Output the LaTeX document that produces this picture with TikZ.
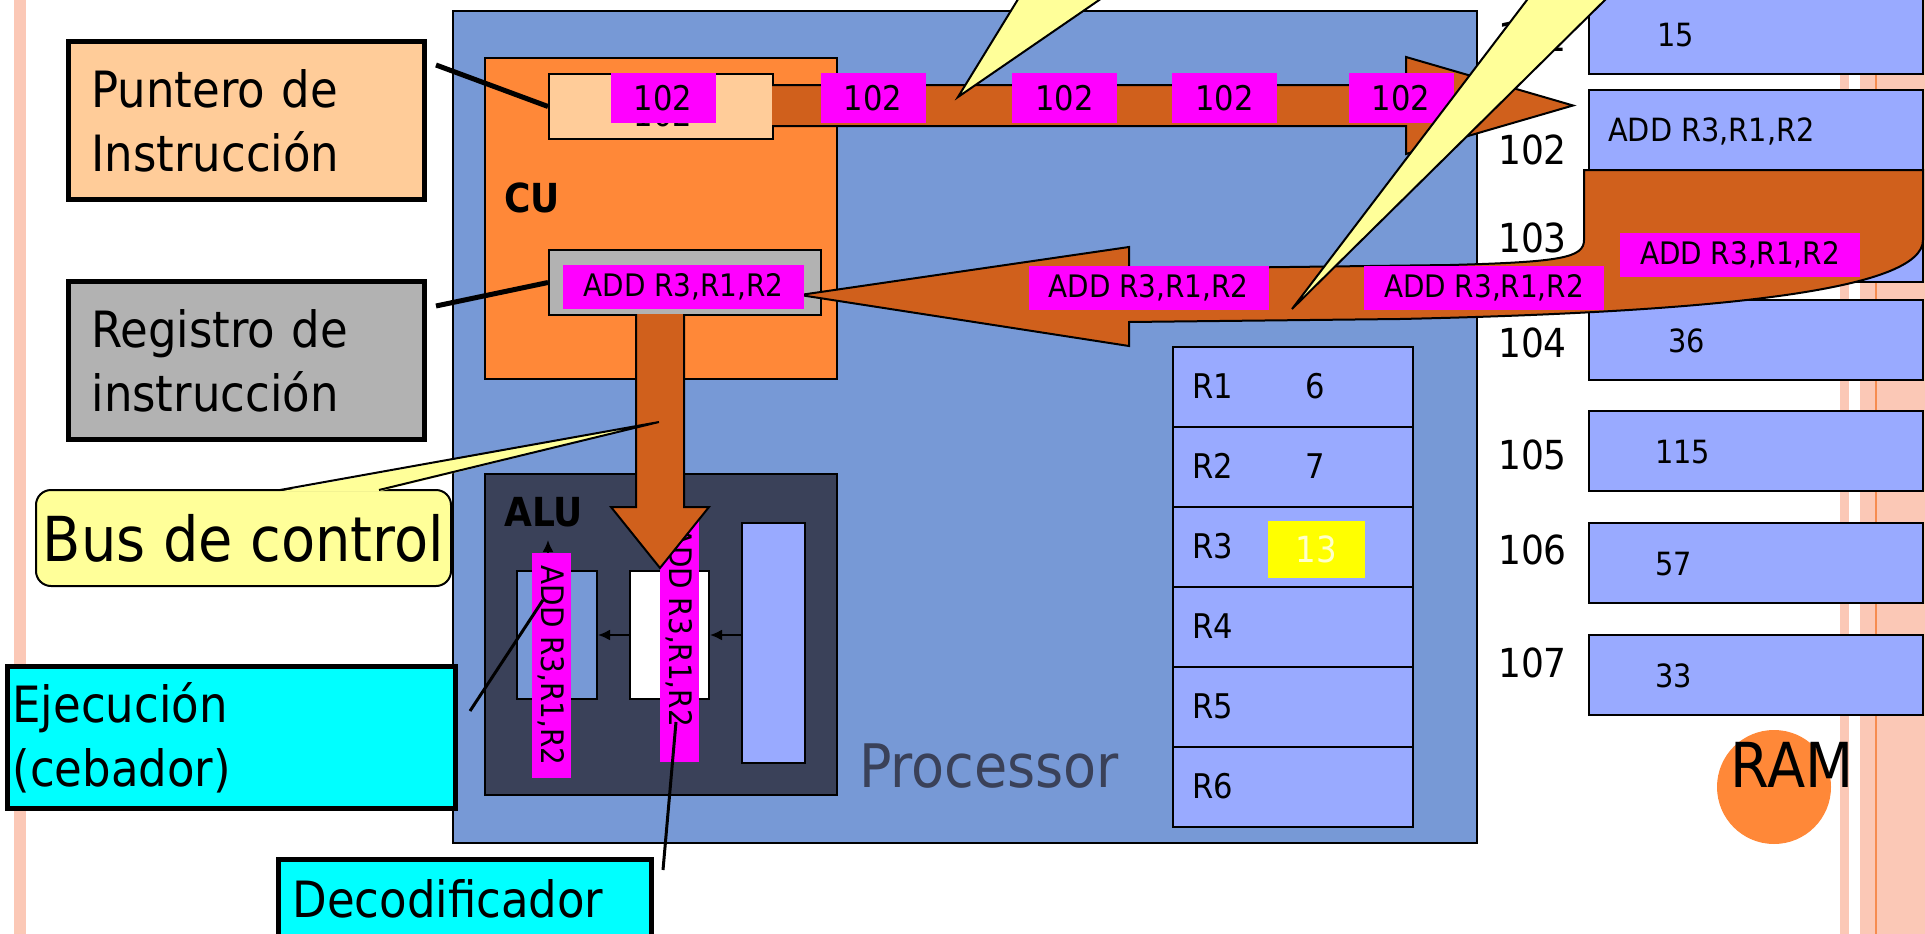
\documentclass[tikz,border=0pt]{standalone}
\usepackage{fontspec}
\setmainfont{DejaVu Sans Condensed}
\usepackage{tikz}
\usetikzlibrary{arrows.meta,positioning,calc,shapes}
\usepackage{xcolor}

\definecolor{procblue}{RGB}{119,153,214}
\definecolor{cuorange}{RGB}{255,136,56}
\definecolor{peach}{RGB}{255,204,153}
\definecolor{irgray}{RGB}{178,178,178}
\definecolor{busbrown}{RGB}{208,96,28}
\definecolor{aludark}{RGB}{58,65,89}
\definecolor{cellblue}{RGB}{153,170,255}
\definecolor{callyellow}{RGB}{255,255,153}
\definecolor{stripepink}{RGB}{251,200,182}
\definecolor{stripeline}{RGB}{246,140,80}
\definecolor{faintyellow}{RGB}{255,255,204}
\definecolor{tagmagenta}{RGB}{255,0,255}
\definecolor{boxcyan}{RGB}{0,255,255}
\definecolor{hotyellow}{RGB}{255,255,0}

\begin{document}
\begin{tikzpicture}[x=1pt, y=-1pt, every node/.style={inner sep=0pt},
  wh/.style 2 args={minimum width=#1pt, minimum height=#2pt},
  block/.style={rectangle, draw, line width=2pt, anchor=north west},
  tag/.style={rectangle, fill=tagmagenta, font=\fontsize{31}{36}\selectfont},
  sidebox/.style={rectangle, draw, line width=5pt, anchor=north west, align=left, font=\fontsize{50}{64}\selectfont},
  bus/.style={draw, fill=busbrown, line width=2pt},
  pointer/.style={line width=5pt},
  wedge/.style={draw, fill=callyellow, line width=2pt},
  tip/.style={-{Latex[length=12pt,width=11pt]}, line width=2pt}]
  \useasboundingbox (0,0) rectangle (1925,934);
  \clip (0,0) rectangle (1925,934);
  \fill[white] (0,0) rectangle (1925,934);
  \fill[stripepink] (14,0) rectangle (26,934);
  \fill[stripepink] (1840,0) rectangle (1849,934);
  \fill[stripepink] (1860,0) rectangle (1925,934);
  \draw[stripeline, line width=2pt] (1876,0) -- (1876,934);

  \foreach \t/\x/\c [count=\i] in {-7/1657/15, 89/1608/{ADD R3,R1,R2}, 201/1655/, 299/1668/36, 410/1655/115, 522/1655/57, 634/1655/33} {
    \node (mem\i) [block, fill=cellblue, wh={334}{80}] at (1588,\t) {};
    \node (cell\i) [anchor=west, font=\fontsize{32}{38}\selectfont] at (\x,\t+42) {\c};
  }
  \foreach \a/\y in {101/52,102/164,103/252,104/357,105/469,106/564,107/677}
    \node (addr\a) [anchor=base west, font=\fontsize{40}{48}\selectfont] at (1498,\y) {\a};

  \node (proc) [block, fill=procblue, wh={1024}{832}] at (452,10) {};
  \node (cu) [block, fill=cuorange, wh={352}{321}] at (484,57) {};
  \node (cutext) [anchor=base west, font=\bfseries\fontsize{40}{48}\selectfont] at (504,212) {CU};
  \node (pc) [block, fill=peach, wh={224}{65}] at (548,73) {};
  \node (pcval) [anchor=base, font=\fontsize{34}{40}\selectfont] at (663,126) {102};
  \node (ir) [block, fill=irgray, wh={272}{65}] at (548,249) {};

  \node (alu) [block, fill=aludark, wh={352}{321}] at (484,473) {};
  \node (alutext) [anchor=base west, font=\bfseries\fontsize{40}{48}\selectfont] at (504,526) {ALU};
  \node (opA) [block, fill=procblue, wh={80}{128}] at (516,570) {};
  \node (opB) [block, fill=white, wh={79}{128}] at (629,570) {};
  \node (opC) [block, fill=cellblue, wh={63}{240}] at (741,522) {};
  \draw[tip] (opC.west |- opB.center) -- (opB.east);
  \draw[tip] (opB.west) -- (opA.east);
  \coordinate (aluout) at (548,540);
  \draw[tip] (opA.north -| aluout) -- (aluout);
  \node (execmsg) [tag, rotate=-90, wh={225}{39}] at (551.5,665.5) {ADD R3,R1,R2};
  \fill[tagmagenta] (660,520) rectangle (699,762);
  \node (decmsg) [rotate=-90, font=\fontsize{31}{36}\selectfont] at (679.5,627) {ADD R3,R1,R2};

  \foreach \r [count=\i] in {R1,R2,R3,R4,R5,R6} {
    \node (reg\i) [block, fill=cellblue, wh={240}{80}] at (1172,{266+80*\i}) {};
    \node (regname\i) [anchor=west, font=\fontsize{34}{40}\selectfont] at (1192,{306+80*\i}) {\r};
  }
  \node (r1val) [font=\fontsize{34}{40}\selectfont] at (1315,386) {6};
  \node (r2val) [font=\fontsize{34}{40}\selectfont] at (1315,466) {7};
  \node (r3val) [rectangle, fill=hotyellow, wh={97}{57}, text=faintyellow, font=\fontsize{36}{40}\selectfont] at (1316.5,549.5) {13};
  \node (proclabel) [anchor=base west, text=aludark, font=\fontsize{60}{70}\selectfont] at (859,787) {Processor};

  \draw[bus] (636,314) -- (636,507) -- (611,507) -- (660,568) -- (709,507) -- (684,507) -- (684,314);
  \draw[bus] (772,85) -- (1406,85) -- (1406,57) -- (1573,105.5) -- (1406,154) -- (1406,126) -- (772,126);
  \draw[bus] (800,295) -- (1129,247) -- (1129,269) -- (1450,265) .. controls (1560,262) and (1584,258) .. (1584,240)
    -- (1584,170) -- (1923,170) -- (1923,240) .. controls (1923,290) and (1720,312) .. (1400,319)
    -- (1129,322) -- (1129,346) -- cycle;

  \foreach \x [count=\i] in {663,873,1064.5,1224.5,1401}
    \node (pctag\i) [tag, wh={105}{50}, font=\fontsize{34}{40}\selectfont] at (\x,98) {102};
  \node (irmsg) [tag, wh={241}{44}] at (683.5,287) {ADD R3,R1,R2};
  \foreach \x/\y [count=\i] in {1148.5/287.5, 1484/287.5, 1740/255}
    \node (busmsg\i) [tag, wh={240}{44}] at (\x,\y) {ADD R3,R1,R2};

  \draw[wedge] (1020,-4) -- (958,97) -- (1105,-4);
  \draw[wedge] (1530,-4) -- (1292,309) -- (1609,-4);

  \node (busctl) [rectangle, rounded corners=15pt, draw, line width=2pt, fill=callyellow, wh={415}{96}, font=\fontsize{62}{70}\selectfont] at (243.5,538) {Bus de control};
  \coordinate (busctltip) at (659,422);
  \fill[callyellow] (280,491.5) -- (busctltip) -- (379,491.5) -- cycle;
  \draw[line width=2pt] (280,490) -- (busctltip) -- (379,490);

  \node (puntero) [sidebox, fill=peach, text width=310pt, inner xsep=23pt, minimum height=158pt] at (66,39) {Puntero de\\Instrucción};
  \node (registro) [sidebox, fill=irgray, text width=310pt, inner xsep=23pt, minimum height=158pt] at (66,279) {Registro de\\instrucción};
  \node (ejecucion) [sidebox, fill=boxcyan, text width=438pt, inner xsep=5pt, minimum height=142pt] at (5,664) {Ejecución\\(cebador)};
  \node (decod) [sidebox, fill=boxcyan, text width=345pt, inner xsep=14pt, minimum height=78pt] at (276,857) {Decodificador};

  \coordinate (punteroend) at (436,65);
  \draw[pointer] (punteroend) -- (pc.west);
  \coordinate (registroend) at (436,306);
  \draw[pointer] (registroend) -- (ir.west);
  \coordinate (ejecA) at (470,711);
  \coordinate (ejecB) at (543,600);
  \draw[line width=3pt] (ejecA) -- (ejecB);
  \coordinate (decodA) at (663,870);
  \coordinate (decodB) at (676,722);
  \draw[line width=3pt] (decodA) -- (decodB);

  \node (ramdot) [circle, fill=cuorange, minimum size=114pt] at (1774,787) {};
  \node (ramlabel) [anchor=base, font=\fontsize{62}{70}\selectfont] at (1792,787) {RAM};
\end{tikzpicture}
\end{document}
